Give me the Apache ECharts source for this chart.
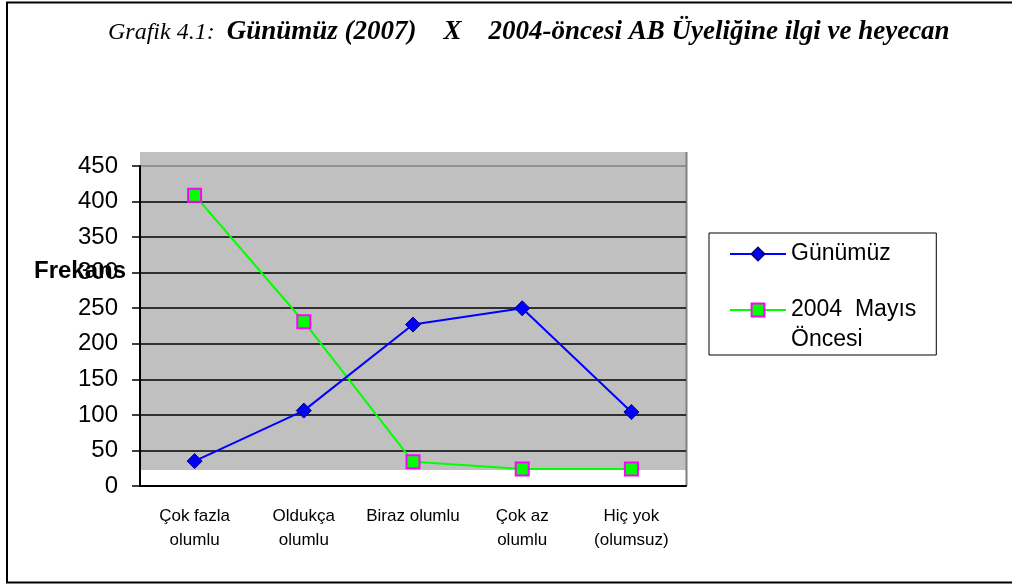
<!DOCTYPE html>
<html>
<head>
<meta charset="utf-8">
<script src="https://cdn.jsdelivr.net/npm/echarts@6/dist/echarts.min.js"></script>
<style>
  html, body { margin: 0; padding: 0; background: #fff; }
  #chart { width: 1012px; height: 585px; }
</style>
</head>
<body>
<div id="chart"></div>
<script>
// chart data
const categories = ['Çok fazla\nolumlu', 'Oldukça\nolumlu', 'Biraz olumlu', 'Çok az\nolumlu', 'Hiç yok\n(olumsuz)']
const gunumuz = [35, 106, 227, 250, 104]
const mayis2004 = [409, 231, 34, 24, 24]
const seriesNames = ['Günümüz', '2004 Mayıs Öncesi']

const chart = echarts.init(document.getElementById('chart'))

const sans = '"Liberation Sans", Arial, sans-serif'
const serif = '"Liberation Serif", "Times New Roman", serif'

chart.setOption({
  backgroundColor: '#fff',
  animation: false,
  title: {
    text: '{a|Grafik 4.1:  }{b|Günümüz (2007)    X    2004-öncesi AB Üyeliğine ilgi ve heyecan}',
    left: 103,
    top: 14,
    textStyle: {
      rich: {
        a: { fontFamily: serif, fontStyle: 'italic', fontWeight: 'normal', fontSize: 24, color: '#000' },
        b: { fontFamily: serif, fontStyle: 'italic', fontWeight: 'bold', fontSize: 27, color: '#000' },
      },
    },
  },
  graphic: [
    // outer frame
    {
      type: 'rect',
      shape: { x: 7, y: 2.5, width: 1100, height: 580 },
      style: { fill: 'none', stroke: '#000', lineWidth: 2 },
      silent: true,
    },
    // plot background (sits a bit above the zero line like the original)
    {
      type: 'rect',
      z: -10,
      shape: { x: 140, y: 152, width: 546, height: 318 },
      style: { fill: '#c0c0c0' },
      silent: true,
    },
    {
      type: 'line',
      shape: { x1: 686.5, y1: 152, x2: 686.5, y2: 486 },
      style: { stroke: '#808080', lineWidth: 2 },
      silent: true,
    },
    {
      type: 'text',
      left: 34,
      top: 259,
      style: { text: 'Frekans', font: 'bold 24px ' + sans, fill: '#000' },
      z: 10,
    },
  ],
  legend: {
    orient: 'vertical',
    left: 709,
    top: 233,
    padding: [6, 20, 0, 20],
    itemWidth: 56,
    itemHeight: 16,
    itemGap: -4,
    borderColor: '#000',
    borderWidth: 1,
    backgroundColor: '#fff',
    textStyle: { fontFamily: sans, fontSize: 23, color: '#000', lineHeight: 30 },
    formatter: (name) => name === seriesNames[1] ? ' \n2004  Mayıs\nÖncesi' : name,
    data: seriesNames,
  },
  grid: {
    left: 140,
    right: 326,
    top: 166,
    bottom: 99,
  },
  xAxis: {
    type: 'category',
    data: categories,
    boundaryGap: true,
    axisLine: { lineStyle: { color: '#000', width: 2 } },
    axisTick: { length: 7, lineStyle: { color: '#000', width: 1.5 } },
    axisLabel: { color: '#000', fontFamily: sans, fontSize: 17, lineHeight: 24, margin: 18, interval: 0 },
  },
  yAxis: {
    type: 'value',
    min: 0,
    max: 450,
    interval: 50,
    axisLine: { show: true, lineStyle: { color: '#000', width: 2 } },
    axisTick: { show: true, length: 8, lineStyle: { color: '#000', width: 1.5 } },
    axisLabel: { color: '#000', fontFamily: sans, fontSize: 24, margin: 22 },
    splitLine: {
      lineStyle: {
        color: ['#000', '#000', '#000', '#000', '#000', '#000', '#000', '#000', '#000', '#808080'],
        width: 1.5,
      },
    },
  },
  series: [
    {
      name: seriesNames[0],
      type: 'line',
      data: gunumuz,
      symbol: 'diamond',
      symbolSize: 15,
      lineStyle: { color: '#0000ff', width: 2 },
      itemStyle: { color: '#0000ff', borderColor: '#000080', borderWidth: 1 },
      z: 3,
    },
    {
      name: seriesNames[1],
      type: 'line',
      data: mayis2004,
      symbol: 'rect',
      symbolSize: 13,
      lineStyle: { color: '#00ff00', width: 2 },
      itemStyle: { color: '#00ff00', borderColor: '#ff00ff', borderWidth: 2 },
      z: 2,
    },
  ],
})
</script>
</body>
</html>
